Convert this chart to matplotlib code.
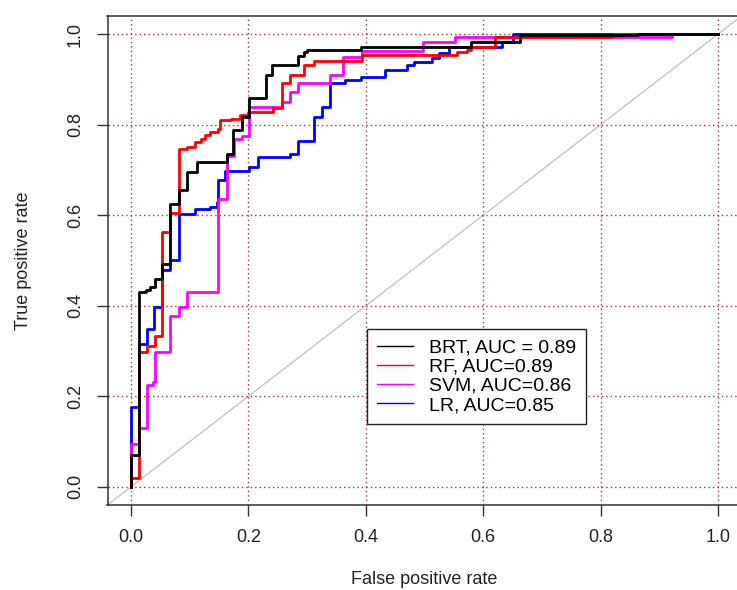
import matplotlib
matplotlib.use("Agg")
import matplotlib.pyplot as plt

plt.rcParams['font.family'] = ['Liberation Sans', 'DejaVu Sans']

# ROC step corners: x = false positive rate where the curve jumps, y = tpr after the jump
brt_fpr = [0, 0, 0.014, 0.025, 0.032, 0.041, 0.052, 0.066, 0.081, 0.095, 0.112, 0.163,
           0.173, 0.189, 0.201, 0.230, 0.241, 0.285, 0.294, 0.300, 0.392, 0.580, 0.662,
           0.864, 1.0]
brt_tpr = [0, 0.071, 0.430, 0.435, 0.442, 0.460, 0.493, 0.625, 0.655, 0.695, 0.717, 0.736,
           0.788, 0.817, 0.859, 0.909, 0.931, 0.951, 0.961, 0.965, 0.972, 0.983, 0.997,
           1.0, 1.0]

rf_fpr = [0, 0, 0.014, 0.027, 0.041, 0.052, 0.066, 0.081, 0.096, 0.109, 0.120, 0.126,
          0.135, 0.149, 0.152, 0.171, 0.186, 0.200, 0.242, 0.257, 0.271, 0.294, 0.311,
          0.393, 0.555, 0.572, 0.580, 0.620, 0.821, 1.0]
rf_tpr = [0, 0.020, 0.297, 0.312, 0.334, 0.563, 0.604, 0.747, 0.751, 0.762, 0.769, 0.777,
          0.784, 0.791, 0.810, 0.813, 0.821, 0.828, 0.836, 0.891, 0.909, 0.931, 0.941,
          0.954, 0.961, 0.966, 0.972, 0.994, 1.0, 1.0]

svm_fpr = [0, 0, 0.014, 0.027, 0.038, 0.041, 0.066, 0.081, 0.096, 0.149, 0.163, 0.175,
           0.189, 0.201, 0.257, 0.271, 0.285, 0.339, 0.362, 0.393, 0.498, 0.552, 0.921, 1.0]
svm_tpr = [0, 0.094, 0.131, 0.226, 0.231, 0.297, 0.378, 0.397, 0.430, 0.636, 0.730, 0.769,
           0.776, 0.839, 0.850, 0.872, 0.891, 0.909, 0.950, 0.963, 0.983, 0.993, 1.0, 1.0]

lr_fpr = [0, 0, 0.014, 0.027, 0.040, 0.052, 0.066, 0.081, 0.109, 0.135, 0.146, 0.149,
          0.160, 0.201, 0.217, 0.271, 0.285, 0.311, 0.325, 0.339, 0.364, 0.392, 0.433,
          0.470, 0.482, 0.512, 0.524, 0.541, 0.632, 0.650, 1.0]
lr_tpr = [0, 0.176, 0.316, 0.349, 0.397, 0.480, 0.502, 0.603, 0.614, 0.618, 0.629, 0.677,
          0.697, 0.706, 0.728, 0.736, 0.765, 0.817, 0.839, 0.891, 0.899, 0.906, 0.920,
          0.931, 0.939, 0.947, 0.958, 0.972, 0.983, 1.0, 1.0]

labels = ["BRT, AUC = 0.89", "RF, AUC=0.89", "SVM, AUC=0.86", "LR, AUC=0.85"]
colors = ["black", "red", "magenta", "blue"]
ticks = [0.0, 0.2, 0.4, 0.6, 0.8, 1.0]

fig = plt.figure(figsize=(7.37, 5.9), dpi=100)
ax = fig.add_axes([107.5 / 737, 85 / 590, 634 / 737, 489 / 590])

curves = [(brt_fpr, brt_tpr), (rf_fpr, rf_tpr), (svm_fpr, svm_tpr), (lr_fpr, lr_tpr)]
# draw LR first, BRT last (black on top)
for i in [3, 2, 1, 0]:
    x, y = curves[i]
    ax.plot(x, y, drawstyle="steps-post", color=colors[i], lw=2.0, zorder=2 + (3 - i) * 0.1)

# chance diagonal
ax.plot([-0.1, 1.1], [-0.1, 1.1], color="#bbbbbb", lw=0.8, zorder=1)

ax.set_xlim(-0.04, 1.04)
ax.set_ylim(-0.04, 1.04)
ax.set_xticks(ticks)
ax.set_yticks(ticks)
ax.set_xticklabels([f"{t:.1f}" for t in ticks])
ax.set_yticklabels([f"{t:.1f}" for t in ticks], rotation=90, va="center")
ax.tick_params(axis="both", direction="out", length=8, width=1, color="#333333",
               labelsize=13, labelcolor="#222222")
ax.tick_params(axis="x", pad=9)
ax.tick_params(axis="y", pad=9)

for sp in ax.spines.values():
    sp.set_color("#333333")
    sp.set_linewidth(1.1)

ax.grid(True, color="#a83232", linestyle=(0, (1, 2.2)), lw=1.0, zorder=3)

ax.set_xlabel("False positive rate", fontsize=13, color="#222222", labelpad=18)
ax.set_ylabel("True positive rate", fontsize=13, color="#222222", labelpad=25)

handles = [plt.Line2D([], [], color=c, lw=1.0) for c in colors]
leg = ax.legend(handles, labels, loc="lower left", bbox_to_anchor=(0.409, 0.166),
                fontsize=14, frameon=True, fancybox=False, framealpha=1,
                edgecolor="#222222", borderpad=0.5, labelspacing=0.08,
                handlelength=1.9, handletextpad=0.8, borderaxespad=0)
leg.get_frame().set_linewidth(1.0)
leg.set_zorder(5)

fig.savefig("out.png", dpi=100)
